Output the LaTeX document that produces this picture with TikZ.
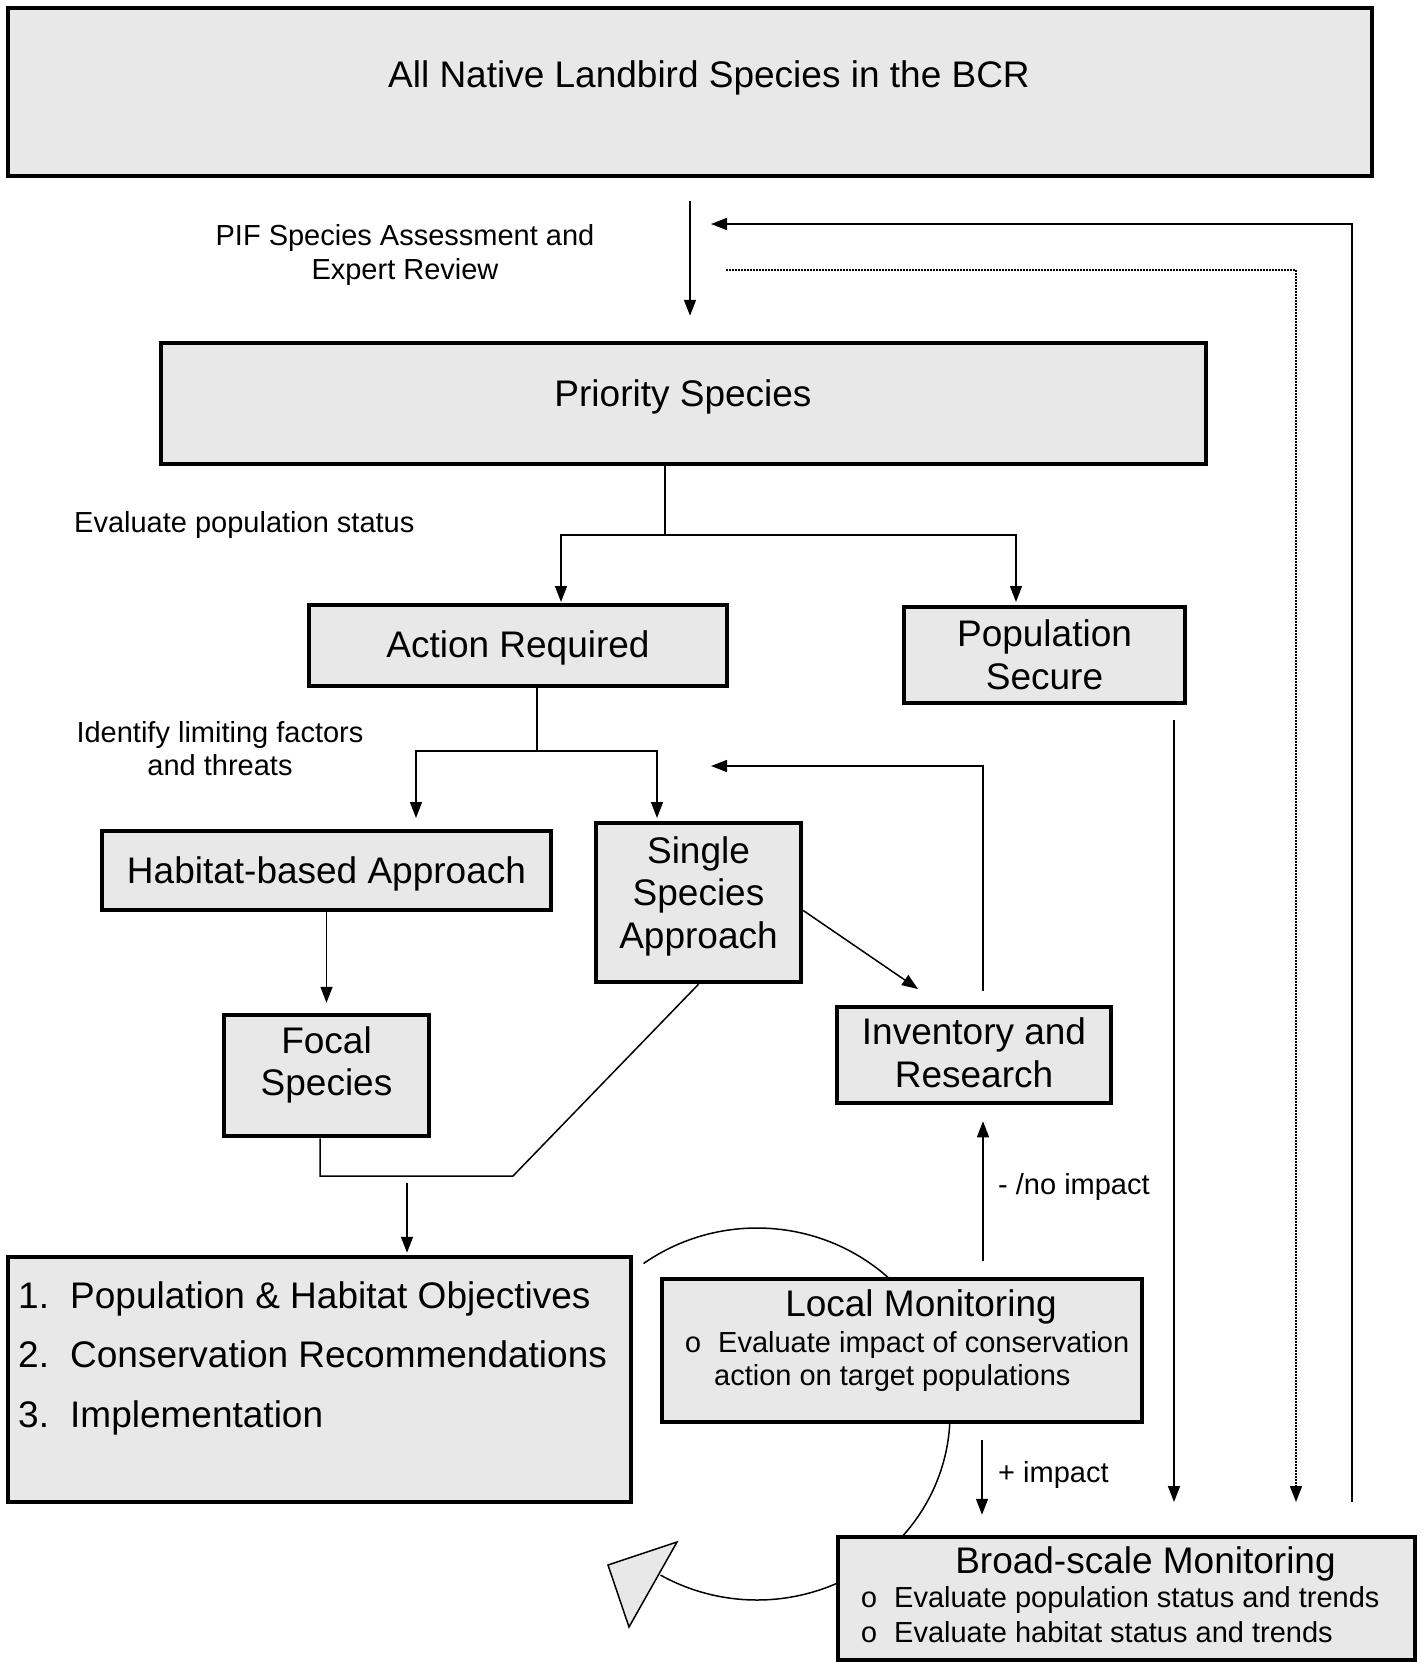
\documentclass[tikz,border=0pt]{standalone}
\usepackage{fontspec}
\setmainfont{Liberation Sans}
\newfontfamily\bulletfont{Liberation Mono}
\usetikzlibrary{arrows.meta,calc}
\definecolor{boxgray}{RGB}{232,232,232}
\begin{document}
\begin{tikzpicture}[x=1pt,y=-1pt,
  box/.style={draw=black,line width=4.5pt,fill=boxgray,rectangle,inner sep=0pt},
  arr/.style={line width=1.5pt,-{Triangle[length=16pt,width=12pt]}},
  ln/.style={line width=1.5pt},
  dotline/.style={line width=1.5pt,dash pattern=on 1.5pt off 1.5pt,-{Triangle[length=16pt,width=12pt]}},
  big/.style={font=\fontsize{37}{42.5}\selectfont,inner sep=0pt},
  small/.style={font=\fontsize{29}{33.5}\selectfont,inner sep=0pt},
]
\useasboundingbox (0,0) rectangle (1421,1662);

% cycle arc (under the boxes)
\draw[line width=1.5pt] plot[domain=126:-120,samples=120,smooth] ({757+193*cos(\x)},{1414-186*sin(\x)});
\draw[line width=1.5pt,fill=boxgray,line join=miter] (608,1565) -- (677,1542) -- (629,1627) -- cycle;

% boxes
\node[box,minimum width=1364pt,minimum height=168pt] (top) at (690,92) {};
\node[big,anchor=base] (toptxt) at (709,88) {All Native Landbird Species in the BCR};

\node[box,minimum width=1045pt,minimum height=121pt] (prio) at (683.5,403.5) {};
\node[big,anchor=base] (priotxt) at (683,406) {Priority Species};

\node[box,minimum width=418pt,minimum height=81pt] (act) at (518,645.5) {};
\node[big,anchor=base] (acttxt) at (518,657) {Action Required};

\node[box,minimum width=281pt,minimum height=96pt,align=center,big] (pop) at (1044.5,655) {Population\\Secure};

\node[box,minimum width=449pt,minimum height=79pt] (hab) at (326.5,870.5) {};
\node[big,anchor=base] (habtxt) at (326.5,883) {Habitat-based Approach};

\node[box,minimum width=205pt,minimum height=159pt] (sing) at (698.5,902.5) {};
\node[big,align=center] (singtxt) at (698.5,896) {Single\\Species\\Approach};

\node[box,minimum width=274pt,minimum height=96pt] (inv) at (974,1055) {};
\node[big,align=center] (invtxt) at (974,1053) {Inventory and\\Research};

\node[box,minimum width=205pt,minimum height=121pt] (foc) at (326.5,1075.5) {};
\node[big,align=center] (foctxt) at (326.5,1065) {Focal\\Species};

\node[box,minimum width=623pt,minimum height=245pt] (obj) at (319.5,1379.5) {};
\node[big,anchor=base west] (o1n) at (18,1308) {1.};
\node[big,anchor=base west] (o1) at (70,1308) {Population \& Habitat Objectives};
\node[big,anchor=base west] (o2n) at (18,1367) {2.};
\node[big,anchor=base west] (o2) at (70,1367) {Conservation Recommendations};
\node[big,anchor=base west] (o3n) at (18,1427) {3.};
\node[big,anchor=base west] (o3) at (70,1427) {Implementation};

\node[box,minimum width=480pt,minimum height=143pt] (loc) at (902,1350.5) {};
\node[big,anchor=base] (loctxt) at (921,1316) {Local Monitoring};
\node[small,anchor=base] (locb) at (693,1352.5) {\bulletfont o};
\node[small,anchor=base west] (loc1) at (718,1352.5) {Evaluate impact of conservation};
\node[small,anchor=base west] (loc2) at (714,1385.5) {action on target populations};

\node[box,minimum width=577pt,minimum height=123pt] (brd) at (1126.5,1598.5) {};
\node[big,anchor=base] (brdtxt) at (1145.5,1573) {Broad-scale Monitoring};
\node[small,anchor=base] (brdb1) at (869,1607) {\bulletfont o};
\node[small,anchor=base west] (brd1) at (894,1607) {Evaluate population status and trends};
\node[small,anchor=base] (brdb2) at (869,1642) {\bulletfont o};
\node[small,anchor=base west] (brd2) at (894,1642) {Evaluate habitat status and trends};

% labels
\node[small,align=center] (pif) at (405,255) {PIF Species Assessment and\\Expert Review};
\node[small,anchor=base west] (evl) at (74,532.5) {Evaluate population status};
\node[small,align=center] (idf) at (220,748.5) {Identify limiting factors\\and threats};
\node[small,anchor=base west] (noimp) at (998,1194) {- /no impact};
\node[small,anchor=base west] (pimp) at (998,1482) {+ impact};

% coordinates
\coordinate (pb) at (665,535);
\coordinate (aL) at (561,602);
\coordinate (pR) at (1016,602);
\coordinate (ab) at (537,751);
\coordinate (hT) at (416,818);
\coordinate (sT) at (657,818);
\coordinate (ps2) at (1174,1502);
\coordinate (ia) at (918,989);
\coordinate (iv1) at (983,991);
\coordinate (iv2) at (711,766);
\coordinate (m1) at (320,1176);
\coordinate (m2) at (513,1176);
\coordinate (m3) at (407,1183);
\coordinate (ni) at (983,0);
\coordinate (pi) at (982,0);
\coordinate (d1) at (726,270);
\coordinate (d2) at (1296,1502);
\coordinate (f1) at (1352,1502);
\coordinate (f2) at (711,224);

% connectors
\draw[arr,shorten <=23pt,shorten >=25pt] (top.south) -- (top.south |- prio.north);
\draw[ln] (prio.south -| pb) -- (pb);
\draw[arr] (pb) -| (aL);
\draw[arr] (pb) -| (pR);
\draw[ln] (act.south -| ab) -- (ab);
\draw[arr] (ab) -| (hT);
\draw[arr] (ab) -| (sT);
\draw[arr,shorten <=15pt] (pop.south -| ps2) -- (ps2);
\draw[arr] ($(sing.east)+(0,8)$) -- (ia);
\draw[arr] (iv1) |- (iv2);
\draw[arr,shorten >=10pt] (hab.south) -- (foc.north);
\draw[ln] (foc.south -| m1) -- (m1) -- (m2) -- (sing.south);
\draw[arr,shorten >=2pt] (m3) -- (obj.north -| m3);
\draw[arr,shorten <=16pt,shorten >=16pt] (loc.north -| ni) -- (inv.south -| ni);
\draw[arr,shorten <=16pt,shorten >=20pt] (loc.south -| pi) -- (brd.north -| pi);
\draw[dotline] (d1) -| (d2);
\draw[arr] (f1) |- (f2);
\end{tikzpicture}
\end{document}
